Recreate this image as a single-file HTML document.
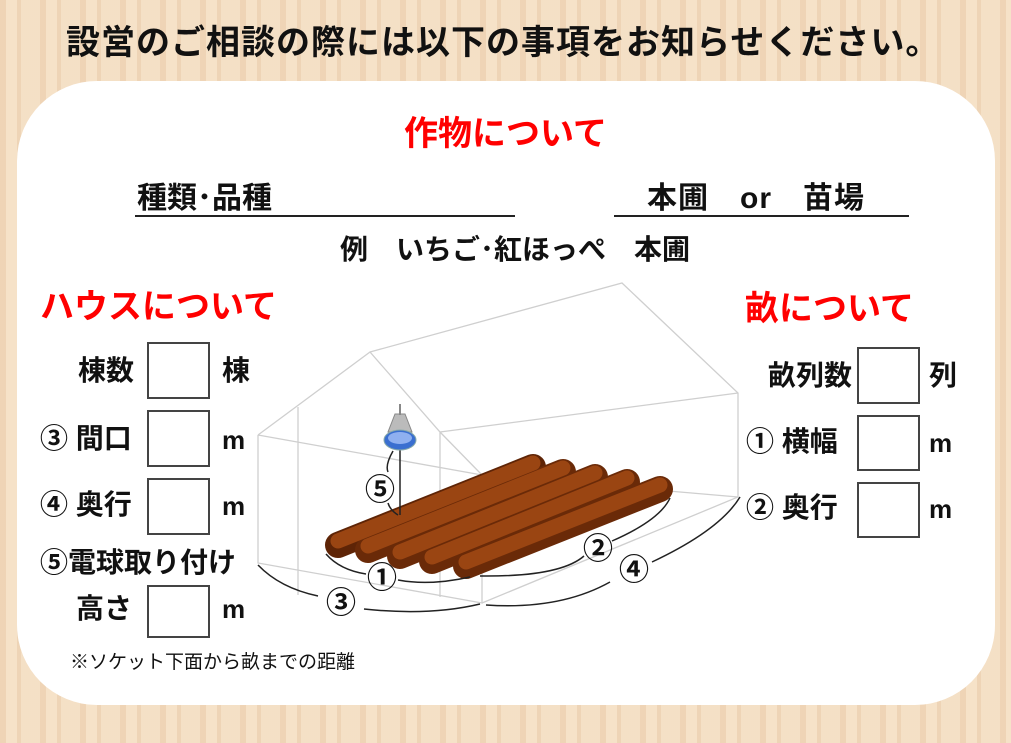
<!DOCTYPE html>
<html><head><meta charset="utf-8"><style>
body{margin:0;width:1011px;height:743px;overflow:hidden;background:#f2dcc0;font-family:"Liberation Sans","Noto Sans CJK JP",sans-serif;position:relative}
.bg{position:absolute;inset:0;background:repeating-linear-gradient(90deg,rgba(230,190,150,.25) 0 6px,rgba(255,240,220,.3) 6px 17px,rgba(220,180,140,.2) 17px 21px,rgba(250,232,210,.3) 21px 40px)}
.panel{position:absolute;left:17px;top:81px;width:978px;height:624px;background:#fff;border-radius:80px}
.t{position:absolute;white-space:nowrap;font-weight:bold;color:#111;line-height:1}
.r{color:#f00}
.box{position:absolute;border:2px solid #444;background:#fff;box-sizing:border-box}
</style></head><body>
<div class="bg"></div>
<div class="panel"></div>
<div class="t" style="left:66px;top:26px;font-size:34px;letter-spacing:1px">設営のご相談の際には以下の事項をお知らせください。</div>
<div class="t r" style="left:404px;top:117px;font-size:34px">作物について</div>
<div class="t" style="left:137px;top:184px;font-size:30px">種類･品種</div>
<div style="position:absolute;left:135px;top:215px;width:380px;height:2px;background:#222"></div>
<div class="t" style="left:647px;top:184px;font-size:30px;letter-spacing:1px">本圃　or　苗場</div>
<div style="position:absolute;left:614px;top:215px;width:295px;height:2px;background:#222"></div>
<div class="t" style="left:340px;top:236px;font-size:28px">例　いちご･紅ほっぺ　本圃</div>
<div class="t r" style="left:40px;top:290px;font-size:34px">ハウスについて</div>
<div class="t r" style="left:745px;top:292px;font-size:34px">畝について</div>

<div class="t" style="left:78px;top:357px;font-size:28px">棟数</div>
<div class="box" style="left:147px;top:342px;width:63px;height:57px"></div>
<div class="t" style="left:222px;top:357px;font-size:28px">棟</div>
<div class="t" style="left:40px;top:425px;font-size:28px">③ 間口</div>
<div class="box" style="left:147px;top:410px;width:63px;height:57px"></div>
<div class="t" style="left:222px;top:427px;font-size:26px">m</div>
<div class="t" style="left:40px;top:491px;font-size:28px">④ 奥行</div>
<div class="box" style="left:147px;top:478px;width:63px;height:57px"></div>
<div class="t" style="left:222px;top:493px;font-size:26px">m</div>
<div class="t" style="left:40px;top:549px;font-size:28px">⑤電球取り付け</div>
<div class="t" style="left:76px;top:595px;font-size:28px">高さ</div>
<div class="box" style="left:147px;top:585px;width:63px;height:53px"></div>
<div class="t" style="left:222px;top:596px;font-size:26px">m</div>
<div class="t" style="left:70px;top:653px;font-size:19px;font-weight:normal">※ソケット下面から畝までの距離</div>

<div class="t" style="left:768px;top:362px;font-size:28px">畝列数</div>
<div class="box" style="left:857px;top:347px;width:63px;height:57px"></div>
<div class="t" style="left:929px;top:362px;font-size:28px">列</div>
<div class="t" style="left:746px;top:428px;font-size:28px">① 横幅</div>
<div class="box" style="left:857px;top:415px;width:63px;height:56px"></div>
<div class="t" style="left:929px;top:430px;font-size:26px">m</div>
<div class="t" style="left:746px;top:494px;font-size:28px">② 奥行</div>
<div class="box" style="left:857px;top:482px;width:63px;height:56px"></div>
<div class="t" style="left:929px;top:496px;font-size:26px">m</div>

<svg style="position:absolute;left:0;top:0" width="1011" height="743">
<g stroke="#cfcfcf" stroke-width="1.3" fill="none">
<path d="M258,435 L370,352 L440,432 L482,475 M258,435 L482,475 M258,435 L258,563 L482,603 L482,475 M298,407 L298,595 M440,432 L440,597 M370,352 L622,283 L738,393 L738,497 L482,603 M440,432 L738,393 M482,475 L738,497"/>
</g>
<g stroke-linecap="round">
<line x1="338" y1="545" x2="533" y2="467" stroke="#5e2406" stroke-width="26"/>
<line x1="368" y1="550" x2="563" y2="472" stroke="#6a2a08" stroke-width="26"/>
<line x1="400" y1="556" x2="595" y2="477" stroke="#6a2a08" stroke-width="26"/>
<line x1="432" y1="561" x2="627" y2="482" stroke="#6a2a08" stroke-width="26"/>
<line x1="466" y1="566" x2="660" y2="489" stroke="#6a2a08" stroke-width="26"/>
</g>
<g stroke="#9a4512" stroke-width="15" stroke-linecap="round">
<line x1="338" y1="541" x2="533" y2="463"/><line x1="368" y1="546" x2="563" y2="468"/><line x1="400" y1="552" x2="595" y2="473"/><line x1="432" y1="557" x2="627" y2="478"/><line x1="466" y1="562" x2="660" y2="485"/>
</g>
<g stroke="#222" stroke-width="1.5" fill="none">
<line x1="400" y1="450" x2="400" y2="515"/>
<path d="M393,451 Q385,465 388,472 M388,503 Q390,510 398,515"/>
<path d="M326,554 Q340,570 366,574 M398,580 Q430,586 470,577"/>
<path d="M480,576 Q560,577 584,556 M612,541 Q660,520 670,498"/>
<path d="M258,565 Q280,588 318,596 M364,609 Q430,616 480,604"/>
<path d="M486,605 Q560,610 610,582 M652,562 Q720,530 740,497"/>
</g>
<g font-family="Liberation Sans,Noto Sans CJK JP,sans-serif" font-weight="bold" font-size="30" fill="#111" text-anchor="middle">
<text x="380" y="500">⑤</text><text x="382" y="588">①</text><text x="598" y="559">②</text><text x="341" y="613">③</text><text x="634" y="580">④</text>
</g>
<path d="M395,414 L405,414 L412,432 L388,432 Z" fill="#bbb" stroke="#888"/>
<line x1="400" y1="404" x2="400" y2="415" stroke="#888" stroke-width="2"/>
<ellipse cx="400" cy="440" rx="16" ry="10" fill="#3a6fd0" stroke="#8aa" stroke-width="1"/>
<ellipse cx="400" cy="438" rx="12" ry="6" fill="#8fb0f0"/>
</svg>
</body></html>
